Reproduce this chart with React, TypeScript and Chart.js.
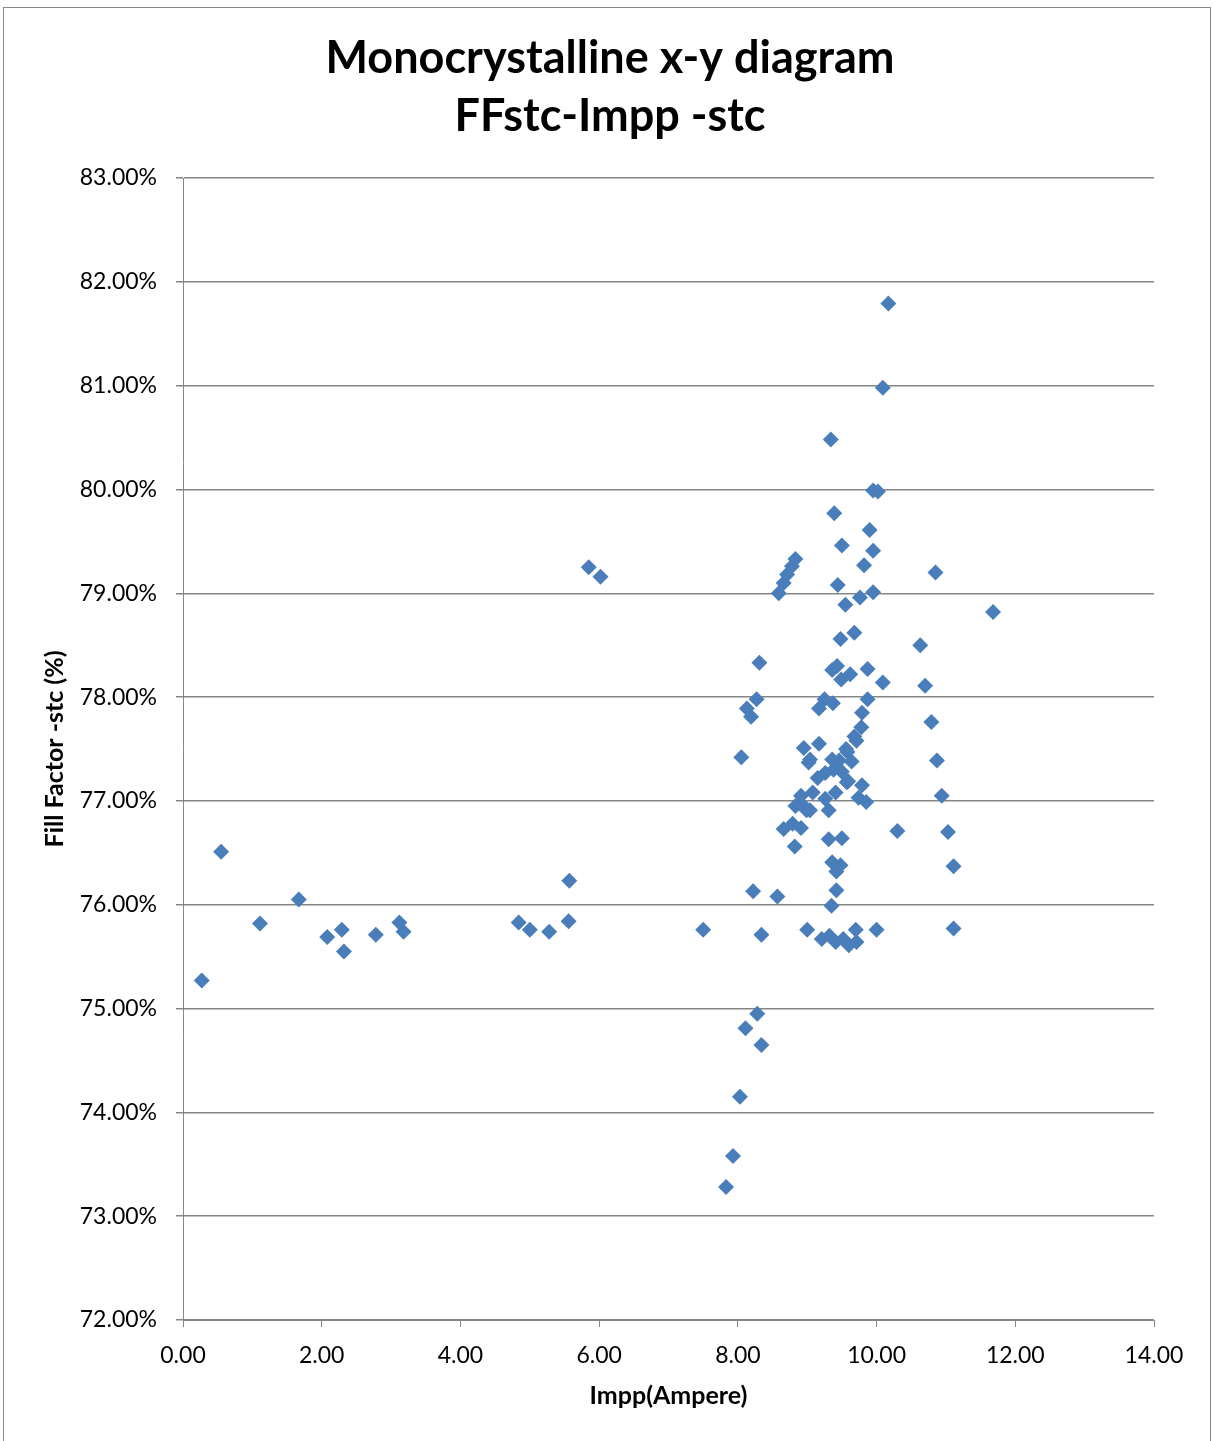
import React, { useEffect, useRef } from "react";
import { Chart, registerables } from "chart.js";

Chart.register(...registerables);

const titleLines = ["Monocrystalline x-y diagram", "FFstc-Impp -stc"];
const xAxisTitle = "Impp(Ampere)";
const yAxisTitle = "Fill Factor -stc (%)";

const xTickValues = [0, 2, 4, 6, 8, 10, 12, 14];
const yTickValues = [72, 73, 74, 75, 76, 77, 78, 79, 80, 81, 82, 83];

// Impp (A)
const imppValues = [
  0.27, 0.55, 1.11, 1.67, 2.08, 2.29, 2.32, 2.78, 3.12, 3.18,
  4.84, 5.0, 5.28, 5.56, 5.57, 5.85, 6.02, 7.5,
  7.83, 7.93, 8.03, 8.11, 8.28, 8.34, 8.34, 8.22, 8.57, 8.05,
  8.13, 8.19, 8.27, 8.31, 8.59, 8.66, 8.71, 8.78, 8.83, 8.66,
  8.82, 8.79, 8.91, 8.83, 8.92, 8.91, 8.99, 9.04, 8.95, 9.02,
  9.04, 9.08, 9.15, 9.17, 9.17, 9.25, 9.26, 9.26, 9.31, 9.31,
  9.0, 9.21, 9.32, 9.41, 9.52, 9.6, 9.71, 9.7, 10.0, 9.35,
  9.42, 9.42, 9.48, 9.36, 9.5, 9.34, 9.39, 9.44, 9.5, 9.55,
  9.48, 9.68, 9.36, 9.43, 9.49, 9.62, 9.37, 9.36, 9.46, 9.38,
  9.5, 9.41, 9.56, 9.58, 9.64, 9.57, 9.59, 9.68, 9.71, 9.78,
  9.79, 9.79, 9.74, 9.85, 9.76, 9.82, 9.87, 9.87, 9.9, 9.95,
  9.95, 9.95, 10.02, 10.09, 10.17, 10.09, 10.3, 10.63, 10.7, 10.79,
  10.85, 10.87, 10.94, 11.03, 11.11, 11.11, 11.68,
];

// Fill factor (%)
const fillFactorValues = [
  75.27, 76.51, 75.82, 76.05, 75.69, 75.76, 75.55, 75.71, 75.83, 75.74,
  75.83, 75.76, 75.74, 75.84, 76.23, 79.25, 79.16, 75.76,
  73.28, 73.58, 74.15, 74.81, 74.95, 74.65, 75.71, 76.13, 76.08, 77.42,
  77.89, 77.81, 77.98, 78.33, 79.0, 79.1, 79.18, 79.26, 79.33, 76.73,
  76.56, 76.78, 76.74, 76.95, 76.97, 77.05, 76.91, 76.91, 77.51, 77.37,
  77.4, 77.08, 77.22, 77.55, 77.89, 77.98, 77.27, 77.02, 76.91, 76.63,
  75.76, 75.67, 75.7, 75.64, 75.67, 75.61, 75.64, 75.76, 75.76, 75.99,
  76.14, 76.32, 76.38, 76.41, 76.64, 80.48, 79.77, 79.08, 79.46, 78.89,
  78.56, 78.62, 78.26, 78.3, 78.17, 78.22, 77.94, 77.4, 77.39, 77.3,
  77.28, 77.08, 77.5, 77.47, 77.38, 77.18, 77.19, 77.62, 77.58, 77.71,
  77.85, 77.15, 77.03, 76.99, 78.96, 79.27, 78.27, 77.98, 79.61, 79.41,
  79.01, 79.99, 79.98, 80.98, 81.79, 78.14, 76.71, 78.5, 78.11, 77.76,
  79.2, 77.39, 77.05, 76.7, 76.37, 75.77, 78.82,
];

const FONT = "Lato, 'Open Sans', sans-serif";
const GRID = "#868686";
const MARKER = "#4A7EBB";

export default function App() {
  const canvasRef = useRef<HTMLCanvasElement | null>(null);

  useEffect(() => {
    const canvas = canvasRef.current;
    if (!canvas) return;

    const titlePlugin = {
      id: "excelTitle",
      afterDraw(chart: any) {
        const ctx = chart.ctx;
        ctx.save();
        ctx.fillStyle = "#000";
        ctx.font = `bold 45px ${FONT}`;
        ctx.textAlign = "center";
        ctx.textBaseline = "middle";
        ctx.fillText(titleLines[0], 610, 58);
        ctx.fillText(titleLines[1], 610, 116);
        ctx.restore();
      },
    };

    const chart = new Chart(canvas, {
      type: "scatter",
      data: {
        datasets: [
          {
            label: "FF",
            data: imppValues.map((x, i) => ({ x, y: fillFactorValues[i] })),
            pointStyle: "rectRot",
            pointRadius: 8,
            pointHoverRadius: 8,
            backgroundColor: MARKER,
            borderColor: MARKER,
            borderWidth: 0,
          },
        ],
      },
      options: {
        responsive: false,
        animation: false,
        devicePixelRatio: 1,
        layout: { padding: { top: 178, right: 59, bottom: 0, left: 0 } },
        plugins: {
          legend: { display: false },
          title: { display: false },
          tooltip: { enabled: false },
        },
        scales: {
          x: {
            type: "linear",
            min: 0,
            max: 14,
            afterFit(scale: any) {
              scale.height = 121;
            },
            afterBuildTicks(scale: any) {
              scale.ticks = xTickValues.map((v) => ({ value: v }));
            },
            ticks: {
              color: "#000",
              font: { family: FONT, size: 23 },
              padding: 15,
              maxRotation: 0,
              callback: (v: any) => Number(v).toFixed(2),
            },
            grid: {
              drawOnChartArea: false,
              drawTicks: true,
              tickLength: 7,
              color: GRID,
            },
            border: { display: true, color: GRID, width: 1 },
            title: {
              display: true,
              text: xAxisTitle,
              color: "#000",
              font: { family: FONT, size: 25, weight: "bold" },
              padding: { top: 0, bottom: 30 },
            },
          },
          y: {
            type: "linear",
            min: 72,
            max: 83,
            afterFit(scale: any) {
              scale.width = 183;
            },
            afterBuildTicks(scale: any) {
              scale.ticks = yTickValues.map((v) => ({ value: v }));
            },
            ticks: {
              color: "#000",
              font: { family: FONT, size: 23 },
              padding: 19,
              callback: (v: any) => Number(v).toFixed(2) + "%",
            },
            grid: {
              drawOnChartArea: true,
              drawTicks: true,
              tickLength: 7,
              color: GRID,
              lineWidth: 1.5,
            },
            border: { display: true, color: GRID, width: 1 },
            title: {
              display: true,
              text: yAxisTitle,
              color: "#000",
              font: { family: FONT, size: 25, weight: "bold" },
              padding: { top: 40, bottom: 0 },
            },
          },
        },
      },
      plugins: [titlePlugin],
    });

    return () => chart.destroy();
  }, []);

  return (
    <div style={{ position: "absolute", left: 0, top: 0, width: 1213, height: 1441, overflow: "hidden", background: "#fff" }}>
      <div
        style={{
          position: "absolute",
          left: 3,
          top: 7,
          width: 1206,
          height: 1460,
          borderLeft: "1px solid #898989",
          borderTop: "1px solid #898989",
          borderRight: "1px solid #898989",
        }}
      />
      <canvas ref={canvasRef} width={1213} height={1441} style={{ position: "absolute", left: 0, top: 0 }} />
    </div>
  );
}
